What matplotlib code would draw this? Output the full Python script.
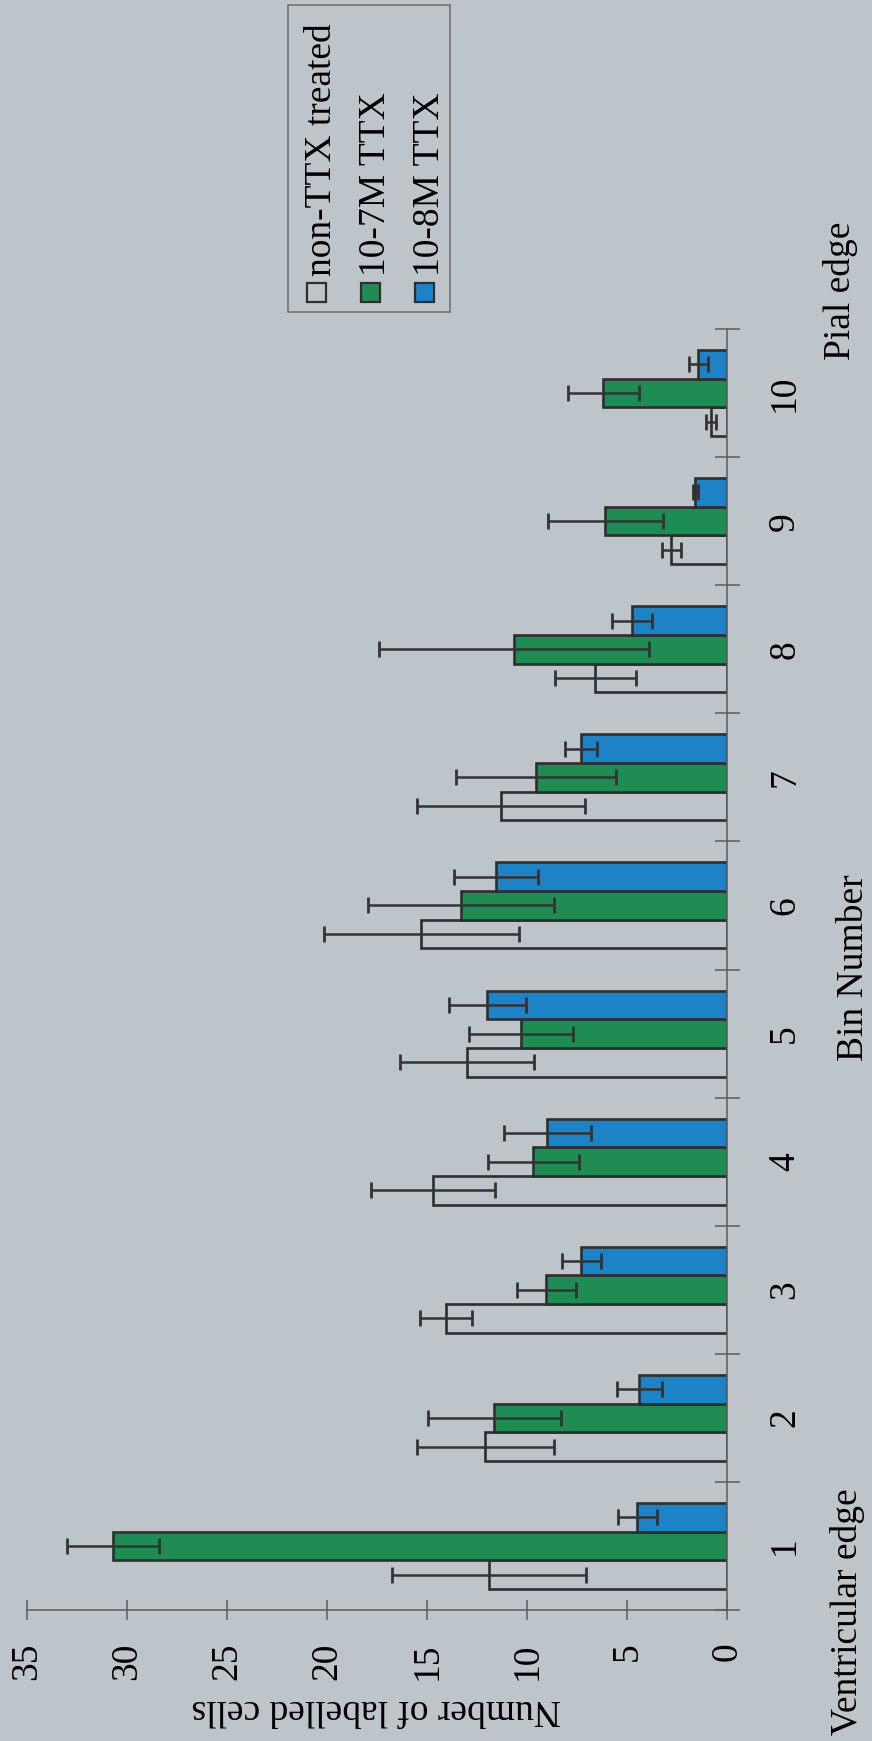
import matplotlib.pyplot as plt
from matplotlib.patches import Rectangle
from matplotlib.ticker import FixedLocator

# labelled cells per bin, ventricular (1) to pial (10) edge
bins = [1, 2, 3, 4, 5, 6, 7, 8, 9, 10]
series_names = ["non-TTX treated", "10-7M TTX", "10-8M TTX"]
non_ttx = [11.9, 12.1, 14.05, 14.7, 13.0, 15.3, 11.3, 6.6, 2.8, 0.8]
non_ttx_err = [4.85, 3.43, 1.3, 3.1, 3.35, 4.87, 4.2, 2.04, 0.46, 0.25]
ttx_7 = [30.7, 11.65, 9.05, 9.7, 10.3, 13.3, 9.55, 10.65, 6.1, 6.2]
ttx_7_err = [2.3, 3.33, 1.48, 2.28, 2.6, 4.64, 4.0, 6.75, 2.87, 1.76]
ttx_8 = [4.5, 4.4, 7.3, 9.0, 12.0, 11.55, 7.3, 4.75, 1.6, 1.45]
ttx_8_err = [0.97, 1.14, 0.97, 2.18, 1.93, 2.1, 0.8, 1.0, 0.12, 0.46]
value_ticks = [0, 5, 10, 15, 20, 25, 30, 35]

W, H = 872, 1741
BG = "#bec5ca"
EDGE = "#2e2e2e"
AXIS = "#5a5a5a"
FILLS = ["none", "#1f8d53", "#1e82c6"]
FONT = "Liberation Serif"
FS = 27

plt.rcParams["font.family"] = FONT


def fig_xy(x, y):
    # pixel position (from top-left) -> figure fraction
    return x / W, 1 - y / H


fig = plt.figure(figsize=(W / 100, H / 100), dpi=100, facecolor=BG)

# chart is laid out turned on its side: bins run upward, counts run leftward
ax = fig.add_axes([27 / W, 1 - 1610 / H, 700.4 / W, 1281 / H])
ax.set_facecolor(BG)

width = 0.224
offsets = [-width, 0, width]
values = [non_ttx, ttx_7, ttx_8]
errors = [non_ttx_err, ttx_7_err, ttx_8_err]

for vals, errs, off, fill in zip(values, errors, offsets, FILLS):
    ys = [b + off for b in bins]
    ax.barh(ys, vals, height=width, color=fill, edgecolor=EDGE,
            linewidth=1.9, zorder=2)
    ax.errorbar(vals, ys, xerr=errs, fmt="none", ecolor="#333333",
                elinewidth=1.8, capsize=6, capthick=2.0, zorder=3)

ax.set_xlim(35, 0)
ax.set_ylim(0.5, 10.5)

for side in ("top", "left"):
    ax.spines[side].set_visible(False)
for side in ("bottom", "right"):
    ax.spines[side].set_color(AXIS)
    ax.spines[side].set_linewidth(1.1)

ax.set_xticks(value_ticks, labels=[str(v) for v in value_ticks],
              rotation=90, fontsize=FS)
ax.tick_params(axis="x", direction="inout", length=15, width=1.1,
               color=AXIS, pad=16)

ax.yaxis.tick_right()
ax.set_yticks(bins, labels=[str(b) for b in bins], rotation=90,
              va="center", fontsize=FS)
ax.yaxis.set_minor_locator(FixedLocator([b - 0.5 for b in bins] + [10.5]))
ax.tick_params(axis="y", which="major", length=0, pad=29)
ax.tick_params(axis="y", which="minor", direction="inout", length=18,
               width=1.1, color=AXIS)

# axis titles and edge labels
fig.text(*fig_xy(863, 968), "Bin Number", rotation=90,
         rotation_mode="anchor", ha="center", va="baseline", fontsize=FS)
fig.text(*fig_xy(376, 1700), "Number of labelled cells", rotation=180,
         rotation_mode="anchor", ha="center", va="baseline", fontsize=FS)
fig.text(*fig_xy(857, 1612), "Ventricular edge", rotation=90,
         rotation_mode="anchor", ha="center", va="baseline", fontsize=FS)
fig.text(*fig_xy(850, 291), "Pial edge", rotation=90,
         rotation_mode="anchor", ha="center", va="baseline", fontsize=FS)

# legend box with entries stacked as columns
x0, y0 = fig_xy(288, 312)
x1, y1 = fig_xy(450, 5)
fig.add_artist(Rectangle((x0, y0), x1 - x0, y1 - y0, transform=fig.transFigure,
                         facecolor="none", edgecolor="#6a6a6a", linewidth=1.1))
baselines = [331, 385, 439]
for name, fill, bx in zip(series_names, FILLS, baselines):
    mx, my = fig_xy(bx - 24, 302)
    fig.add_artist(Rectangle((mx, my), 19 / W, 19 / H, transform=fig.transFigure,
                             facecolor=fill, edgecolor=EDGE, linewidth=1.6))
    fig.text(*fig_xy(bx, 276), name, rotation=90, rotation_mode="anchor",
             ha="left", va="baseline", fontsize=FS)

fig.savefig("out.png", dpi=100, facecolor=BG)
